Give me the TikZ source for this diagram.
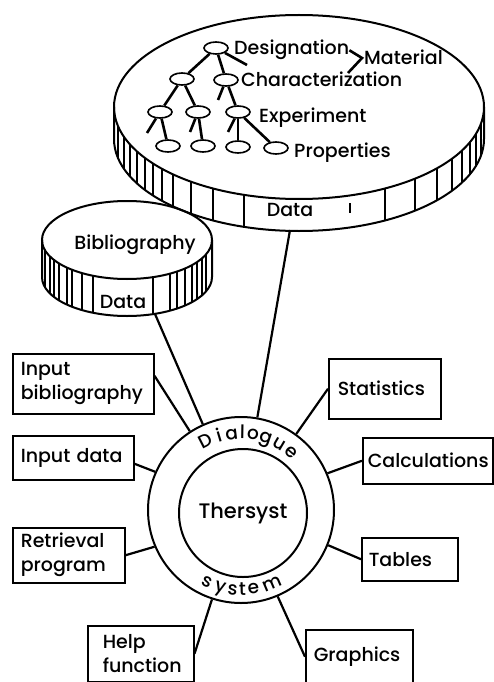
\documentclass[tikz,border=0pt]{standalone}
\usepackage{fontspec}
\setmainfont{Poppins Medium}
\usetikzlibrary{shapes.geometric,calc}
\begin{document}
\begin{tikzpicture}[x=1pt,y=1pt, font=\fontsize{19}{24}\selectfont,
  box/.style={draw, line width=1.5pt, anchor=north west, align=left, inner ysep=0pt, inner xsep=8pt},
  conn/.style={line width=2.2pt},
  rimline/.style={line width=1.2pt},
  outline/.style={line width=2pt},
  treenode/.style={ellipse, draw, line width=1.6pt, minimum width=24pt, minimum height=12pt, inner sep=0pt},
  treeedge/.style={line width=2.6pt},
  lbl/.style={inner sep=0pt, anchor=base west},
  ringletter/.style={inner sep=0pt, anchor=base, font=\fontsize{18.5}{24}\selectfont}]
\useasboundingbox (0,0) rectangle (493,-682);

% ---------- big data disk ----------
\def\bcx{299}\def\bcy{-107}\def\brx{185}\def\bry{92}\def\bh{32}
\draw[outline] (\bcx-\brx,\bcy) -- ++(0,-\bh) arc[start angle=180,end angle=360,x radius=\brx,y radius=\bry] -- ++(0,\bh);
\draw[outline] (\bcx,\bcy) ellipse[x radius=\brx,y radius=\bry];
\foreach \hx in {118,124,130,137,145,153,162,173,191,213,244,385,415,437,452,462,470,476,481}{
  \pgfmathsetmacro\hh{\bry*sqrt(1-((\hx-\bcx)/\brx)^2)}
  \draw[rimline] (\hx,\bcy-\hh) -- (\hx,\bcy-\hh-\bh);
}
\pgfmathsetmacro\hh{\bry*sqrt(1-((350-\bcx)/\brx)^2)}
\draw[rimline] (350,\bcy-\hh-8) -- (350,\bcy-\hh-18);
\node (bigdata) at (290,-210) {Data};
\coordinate (bigbot) at (290,-230);

% tree
\node[treenode] (t0) at (216,-48) {};
\node[treenode] (t1) at (182,-79) {};
\node[treenode] (t2) at (226,-80) {};
\node[treenode] (t3) at (160,-112) {};
\node[treenode] (t4) at (198,-112) {};
\node[treenode] (t5) at (238,-112) {};
\node[treenode] (t6) at (168,-146) {};
\node[treenode] (t7) at (203,-146) {};
\node[treenode] (t8) at (238,-147) {};
\node[treenode] (t9) at (276,-148) {};
\coordinate (s0) at (247,-65);
\coordinate (s2) at (218,-100);
\coordinate (s3) at (147,-133);
\coordinate (s4) at (190,-132);
\coordinate (s5) at (228,-132);
\draw[treeedge] (t0) -- (t1);
\draw[treeedge] (t0) -- (t2);
\draw[treeedge] (t1) -- (t3);
\draw[treeedge] (t1) -- (t4);
\draw[treeedge] (t2) -- (t5);
\draw[treeedge] (t3) -- (t6);
\draw[treeedge] (t4) -- (t7);
\draw[treeedge] (t5) -- (t8);
\draw[treeedge] (t5) -- (t9);
\draw[treeedge] (t0) -- (s0);
\draw[treeedge] (t2) -- (s2);
\draw[treeedge] (t3) -- (s3);
\draw[treeedge] (t4) -- (s4);
\draw[treeedge] (t5) -- (s5);

\node[lbl] (des) at (234,-55) {Designation};
\node[lbl] (mat) at (364,-65) {Material};
\node[lbl] (chr) at (241,-87) {Characterization};
\node[lbl] (exp) at (259,-123) {Experiment};
\node[lbl] (prop) at (294,-157) {Properties};
\coordinate (mjoin) at (362,-58);
\coordinate (brk) at (348,-73);
\draw[treeedge] (des.east) -- (mjoin) -- (brk);

% ---------- bibliography disk ----------
\def\scx{127}\def\scy{-240}\def\srx{85}\def\sry{39}\def\sh{37}
\draw[outline] (\scx-\srx,\scy) -- ++(0,-\sh) arc[start angle=180,end angle=360,x radius=\srx,y radius=\sry] -- ++(0,\sh);
\draw[outline] (\scx,\scy) ellipse[x radius=\srx,y radius=\sry];
\foreach \hx in {45,50,54,59,67,72,82,93,153,170,177,185,192,197,202,206}{
  \pgfmathsetmacro\hh{\sry*sqrt(1-((\hx-\scx)/\srx)^2)}
  \draw[rimline] (\hx,\scy-\hh) -- (\hx,\scy-\hh-\sh);
}
\node (biblbl) at (135,-245) {Bibliography};
\node (bibdata) at (123,-302) {Data};
\coordinate (bibbot) at (155,-314);

% ---------- dialogue ring ----------
\node[circle, draw, line width=2pt, minimum size=186pt, inner sep=0pt] (ring) at (241,-510) {};
\node[circle, draw, line width=2pt, minimum size=128pt, inner sep=0pt, font=\fontsize{21}{24}\selectfont] (core) at (243,-513) {Thersyst};
\foreach \ch/\ang [count=\i] in {D/117,i/106.5,a/97,l/89,o/81,g/71,u/59.5,e/49}{
  \node[ringletter, rotate=\ang-90] (dl\i) at ($(241,-510)+(\ang:71)$) {\ch};
}
\foreach \ch/\ang [count=\i] in {s/245,y/255,s/264,t/271,e/279,m/293}{
  \node[ringletter, rotate=\ang+90] (sy\i) at ($(241,-510)+(\ang:85)$) {\ch};
}

% ---------- boxes ----------
\node[box, text width=125pt, minimum height=60pt] (ib) at (12,-353) {Input\\bibliography};
\node[box, text width=105pt, minimum height=44pt] (id) at (12,-435) {Input data};
\node[box, text width=96pt, minimum height=55pt] (rp) at (12,-527) {Retrieval\\program};
\node[box, inner xsep=15pt, text width=76pt, minimum height=56pt] (hf) at (87,-625) {Help\\function};
\node[box, inner xsep=9pt, text width=94pt, minimum height=60pt] (st) at (328,-358) {Statistics};
\node[box, inner xsep=5pt, text width=120pt, minimum height=46pt] (ca) at (362,-437) {Calculations};
\node[box, inner xsep=7pt, text width=82pt, minimum height=43pt] (ta) at (361,-537) {Tables};
\node[box, inner xsep=8pt, text width=91pt, minimum height=54pt] (gr) at (305,-629) {Graphics};

% ---------- connectors ----------
\draw[conn] (bigbot) -- (ring.80);
\draw[conn] (bibbot) -- (ring.114);
\draw[conn] ([yshift=8pt]ib.east) -- (ring.123);
\draw[conn] ([yshift=-6pt]id.east) -- (ring.156);
\draw[conn] (rp.east) -- (ring.203);
\draw[conn] (hf.east) -- (ring.252);
\draw[conn] (st.west) -- (ring.54);
\draw[conn] (ca.west) -- (ring.23);
\draw[conn] (ta.west) -- (ring.-22);
\draw[conn] (gr.west) -- (ring.-67);
\end{tikzpicture}
\end{document}
